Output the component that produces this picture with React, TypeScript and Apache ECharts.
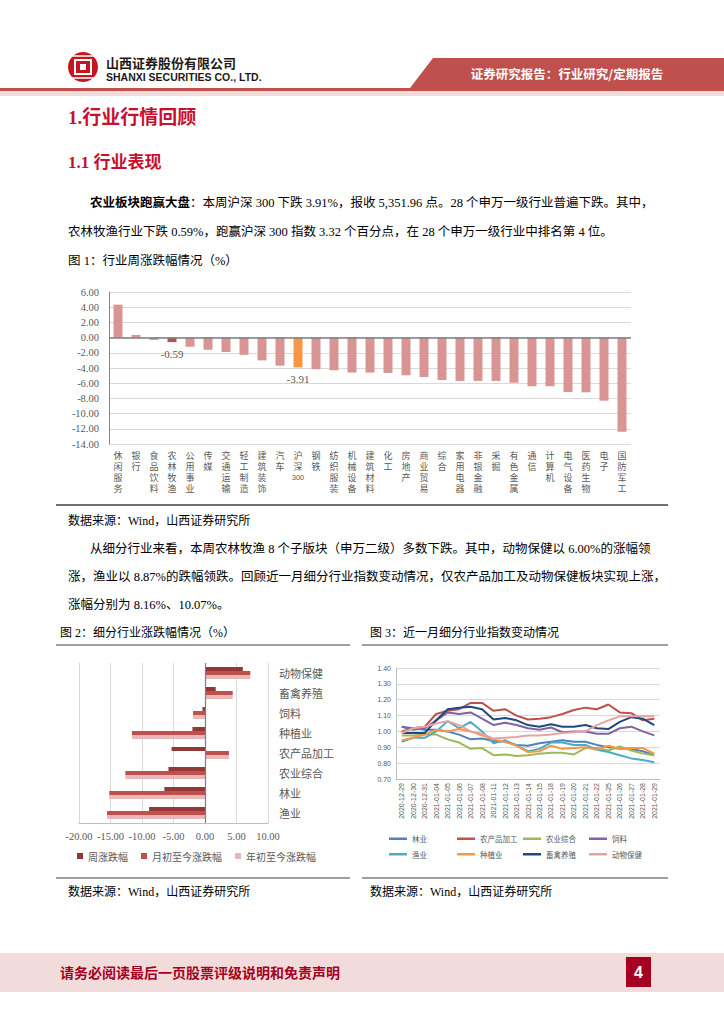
import React, { useEffect, useRef } from "react";
import * as echarts from "echarts";

// ---------- Figure 1 data ----------
const industryNames = ["休闲服务", "银行", "食品饮料", "农林牧渔", "公用事业", "传媒", "交通运输", "轻工制造", "建筑装饰", "汽车", "沪深300", "钢铁", "纺织服装", "机械设备", "建筑材料", "化工", "房地产", "商业贸易", "综合", "家用电器", "非银金融", "采掘", "有色金属", "通信", "计算机", "电气设备", "医药生物", "电子", "国防军工"];
const industryWeekChange = [4.34, 0.35, -0.3, -0.59, -1.2, -1.6, -1.9, -2.26, -3.0, -3.7, -3.91, -4.16, -4.3, -4.6, -4.6, -4.65, -4.96, -5.18, -5.58, -5.7, -5.7, -5.7, -5.93, -6.4, -6.4, -7.17, -7.2, -8.3, -12.4];

// ---------- Figure 2 data ----------
const subSectors = ["动物保健", "畜禽养殖", "饲料", "种植业", "农产品加工", "农业综合", "林业", "渔业"];
const subWeek = [6.0, 1.7, -0.4, -2.0, -5.3, -5.8, -6.45, -8.87];
const subMonth = [7.2, 4.4, -1.9, -11.6, 3.8, -12.65, -15.2, -15.55];
const subYtd = [7.2, 4.4, -1.9, -11.6, 3.8, -12.65, -15.2, -15.55];
const subLegend = ["周涨跌幅", "月初至今涨跌幅", "年初至今涨跌幅"];

// ---------- Figure 3 data ----------
const dates = ["2020-12-29", "2020-12-30", "2020-12-31", "2021-01-04", "2021-01-05", "2021-01-06", "2021-01-07", "2021-01-08", "2021-01-11", "2021-01-12", "2021-01-13", "2021-01-14", "2021-01-15", "2021-01-18", "2021-01-19", "2021-01-20", "2021-01-21", "2021-01-22", "2021-01-25", "2021-01-26", "2021-01-27", "2021-01-28", "2021-01-29"];
const forestry = [1.03, 1.02, 1.01, 1.01, 1.0, 0.98, 0.95, 0.955, 0.94, 0.935, 0.915, 0.91, 0.925, 0.935, 0.945, 0.935, 0.935, 0.915, 0.9, 0.89, 0.89, 0.875, 0.85];
const agriProcessing = [1.0, 1.02, 1.03, 1.11, 1.13, 1.14, 1.18, 1.18, 1.13, 1.14, 1.1, 1.075, 1.08, 1.09, 1.11, 1.135, 1.15, 1.14, 1.17, 1.12, 1.115, 1.07, 1.08];
const agriComposite = [0.975, 0.975, 0.98, 0.98, 0.95, 0.93, 0.89, 0.895, 0.85, 0.855, 0.845, 0.85, 0.86, 0.865, 0.865, 0.855, 0.895, 0.895, 0.88, 0.905, 0.88, 0.86, 0.85];
const feed = [1.03, 1.01, 1.02, 1.07, 1.12, 1.11, 1.12, 1.08, 1.04, 1.055, 1.04, 1.02, 1.01, 1.025, 0.995, 1.0, 1.0, 0.985, 0.985, 1.02, 1.03, 1.0, 0.975];
const fishery = [0.935, 0.96, 0.96, 1.0, 1.065, 1.02, 1.06, 1.0, 0.925, 0.945, 0.91, 0.875, 0.89, 0.93, 0.93, 0.915, 0.915, 0.885, 0.87, 0.85, 0.83, 0.82, 0.805];
const planting = [0.945, 0.96, 0.98, 1.01, 1.0, 1.015, 1.0, 0.975, 0.95, 0.935, 0.91, 0.87, 0.875, 0.91, 0.89, 0.895, 0.9, 0.885, 0.91, 0.89, 0.895, 0.895, 0.86];
const livestock = [0.99, 0.99, 0.99, 1.07, 1.14, 1.15, 1.155, 1.14, 1.075, 1.085, 1.07, 1.04, 1.03, 1.045, 1.03, 1.03, 1.04, 1.02, 1.015, 1.06, 1.09, 1.08, 1.04];
const animalHealth = [0.99, 1.02, 1.03, 1.05, 1.065, 1.04, 1.0, 0.985, 0.955, 0.96, 0.965, 0.975, 0.975, 0.98, 0.99, 0.995, 1.0, 1.04, 1.07, 1.095, 1.095, 1.095, 1.095];

const lineNames = ["林业", "农产品加工", "农业综合", "饲料", "渔业", "种植业", "畜禽养殖", "动物保健"];
const lineColors = ["#4f81bd", "#c0504d", "#9bbb59", "#8064a2", "#4bacc6", "#f79646", "#1f497d", "#e6a3a3"];
const lineData = [forestry, agriProcessing, agriComposite, feed, fishery, planting, livestock, animalHealth];

const SERIF = '"Liberation Serif", "Noto Sans CJK SC", serif';
const SANS = '"Liberation Sans", "Noto Sans CJK SC", sans-serif';
const CJK = '"Noto Sans CJK SC", sans-serif';

function txt(text: string, x: number, y: number, opts: any = {}) {
  return {
    type: "text",
    x,
    y,
    silent: true,
    style: {
      text,
      fontSize: opts.fontSize ?? 12.5,
      fontFamily: opts.fontFamily ?? SERIF,
      fontWeight: opts.fontWeight ?? "normal",
      fill: opts.fill ?? "#000",
      align: opts.align ?? "left",
      verticalAlign: "middle",
      rich: opts.rich,
    },
  };
}

function hline(x1: number, x2: number, y: number, color = "#404040", w = 1) {
  return { type: "line", silent: true, shape: { x1, y1: y, x2, y2: y }, style: { stroke: color, lineWidth: w } };
}

export default function App() {
  const ref = useRef<HTMLDivElement>(null);

  useEffect(() => {
    if (!ref.current) return;
    const chart = echarts.init(ref.current, undefined, { renderer: "svg" });

    const bar1Data = industryWeekChange.map((v, i) => {
      const name = industryNames[i];
      if (name === "农林牧渔") {
        return { value: v, itemStyle: { color: "#c0504d" }, label: { show: true, position: "bottom", distance: 6, formatter: v.toFixed(2), fontFamily: SERIF, fontSize: 11, color: "#595959" } };
      }
      if (name === "沪深300") {
        return { value: v, itemStyle: { color: "#f79646" }, label: { show: true, position: "bottom", distance: 6, formatter: v.toFixed(2), fontFamily: SERIF, fontSize: 11, color: "#595959" } };
      }
      return { value: v };
    });

    const graphics: any[] = [
      // header logo
      { type: "circle", silent: true, shape: { cx: 83, cy: 67, r: 15 }, style: { fill: "#c4161c" } },
      { type: "rect", silent: true, shape: { x: 75, y: 60, width: 16, height: 14 }, style: { fill: "none", stroke: "#fff", lineWidth: 2 } },
      { type: "rect", silent: true, shape: { x: 80, y: 64, width: 6, height: 6 }, style: { fill: "#fff" } },
      hline(72, 94, 56, "#fff", 1.5),
      hline(72, 94, 78, "#fff", 1.5),
      txt("山西证券股份有限公司", 106, 62, { fontSize: 13, fontWeight: "bold", fontFamily: CJK, fill: "#231815" }),
      txt("SHANXI SECURITIES CO., LTD.", 106, 77, { fontSize: 10.5, fontWeight: "bold", fontFamily: '"Liberation Sans Narrow", "Liberation Sans", sans-serif', fill: "#231815" }),
      { type: "polygon", silent: true, shape: { points: [[433, 58], [724, 58], [724, 88], [410, 88]] }, style: { fill: "#c0504d" } },
      txt("证券研究报告：行业研究/定期报告", 567, 73, { fontSize: 12.5, fontWeight: "bold", fontFamily: CJK, fill: "#fff", align: "center" }),
      { type: "rect", silent: true, shape: { x: 0, y: 88, width: 724, height: 3 }, style: { fill: "#c0504d" } },
      { type: "rect", silent: true, shape: { x: 0, y: 91, width: 724, height: 5 }, style: { fill: "#f2dcdb" } },
      // titles
      txt("1.行业行情回顾", 68, 117, { fontSize: 19, fontWeight: "bold", fill: "#c8102e" }),
      txt("1.1 行业表现", 68, 162, { fontSize: 17, fontWeight: "bold", fill: "#c8102e" }),
      // paragraph 1
      txt("{b|农业板块跑赢大盘}：本周沪深 300 下跌 3.91%，报收 5,351.96 点。28 个申万一级行业普遍下跌。其中，", 90, 203, {
        rich: { b: { fontWeight: "bold", fontSize: 12.5, fontFamily: SERIF, fill: "#000" } },
      }),
      txt("农林牧渔行业下跌 0.59%，跑赢沪深 300 指数 3.32 个百分点，在 28 个申万一级行业中排名第 4 位。", 68, 232),
      txt("图 1：行业周涨跌幅情况（%）", 68, 261),
      hline(56, 668, 505, "#404040", 1.5),
      txt("数据来源：Wind，山西证券研究所", 68, 521, { fontSize: 12 }),
      // paragraph 2
      txt("从细分行业来看，本周农林牧渔 8 个子版块（申万二级）多数下跌。其中，动物保健以 6.00%的涨幅领", 90, 549),
      txt("涨，渔业以 8.87%的跌幅领跌。回顾近一月细分行业指数变动情况，仅农产品加工及动物保健板块实现上涨，", 68, 577),
      txt("涨幅分别为 8.16%、10.07%。", 68, 605),
      txt("图 2：细分行业涨跌幅情况（%）", 60, 633, { fontSize: 12 }),
      txt("图 3：近一月细分行业指数变动情况", 370, 633, { fontSize: 12 }),
      hline(56, 350, 645, "#404040", 1),
      hline(362, 668, 645, "#404040", 1),
      hline(56, 350, 878, "#404040", 1),
      hline(362, 668, 878, "#404040", 1),
      txt("数据来源：Wind，山西证券研究所", 68, 892, { fontSize: 12 }),
      txt("数据来源：Wind，山西证券研究所", 370, 892, { fontSize: 12 }),
      // footer
      { type: "rect", silent: true, shape: { x: 0, y: 953, width: 724, height: 39 }, style: { fill: "#f2dcdb" } },
      txt("请务必阅读最后一页股票评级说明和免责声明", 60, 972, { fontSize: 14, fontWeight: "bold", fontFamily: CJK, fill: "#a50021" }),
      { type: "rect", silent: true, shape: { x: 626, y: 957, width: 25, height: 30 }, style: { fill: "#a50021" } },
      txt("4", 638.5, 972, { fontSize: 16, fontWeight: "bold", fontFamily: SANS, fill: "#fff", align: "center" }),
    ];

    const option: any = {
      animation: false,
      backgroundColor: "#fff",
      graphic: graphics,
      grid: [
        { left: 109, top: 292, width: 522, height: 152 },
        { left: 79, top: 663, width: 189, height: 160 },
        { left: 396, top: 668, width: 264, height: 111 },
      ],
      xAxis: [
        {
          gridIndex: 0,
          type: "category",
          data: industryNames,
          axisLine: { show: false, onZero: false },
          axisTick: { show: false },
          axisLabel: {
            interval: 0,
            margin: 6,
            fontSize: 9,
            lineHeight: 11,
            color: "#595959",
            fontFamily: CJK,
            verticalAlign: "top",
            formatter: (v: string) => {
              if (v === "沪深300") return "沪\n深\n{d|300}";
              return v.split("").join("\n");
            },
            rich: { d: { fontSize: 7.5, lineHeight: 11, color: "#595959", fontFamily: SANS } },
          },
        },
        {
          gridIndex: 1,
          type: "value",
          min: -20,
          max: 10,
          interval: 5,
          axisLine: { show: true, lineStyle: { color: "#bfbfbf" } },
          axisTick: { show: false },
          splitLine: { show: true, lineStyle: { color: "#d9d9d9" } },
          axisLabel: { formatter: (v: number) => v.toFixed(2), fontSize: 10.5, color: "#595959", fontFamily: SERIF, margin: 8 },
        },
        {
          gridIndex: 2,
          type: "category",
          data: dates,
          boundaryGap: true,
          axisLine: { show: true, lineStyle: { color: "#bfbfbf" } },
          axisTick: { show: false },
          axisLabel: { interval: 0, rotate: 90, fontSize: 7, color: "#595959", fontFamily: SANS, margin: 4 },
        },
      ],
      yAxis: [
        {
          gridIndex: 0,
          type: "value",
          min: -14,
          max: 6,
          interval: 2,
          axisLine: { show: true, lineStyle: { color: "#868686" } },
          axisTick: { show: false },
          splitLine: { show: true, lineStyle: { color: "#d9d9d9" } },
          axisLabel: { formatter: (v: number) => v.toFixed(2), fontSize: 10.5, color: "#595959", fontFamily: SERIF, margin: 10 },
        },
        {
          gridIndex: 1,
          type: "category",
          data: subSectors,
          inverse: true,
          position: "right",
          axisLine: { show: false },
          axisTick: { show: false },
          axisLabel: { fontSize: 11, color: "#595959", fontFamily: CJK, margin: 11 },
        },
        {
          gridIndex: 2,
          type: "value",
          min: 0.7,
          max: 1.4,
          interval: 0.1,
          axisLine: { show: true, lineStyle: { color: "#bfbfbf" } },
          axisTick: { show: false },
          splitLine: { show: true, lineStyle: { color: "#d9d9d9" } },
          axisLabel: { formatter: (v: number) => v.toFixed(2), fontSize: 7, color: "#595959", fontFamily: SANS, margin: 5 },
        },
      ],
      legend: [
        {
          left: 77,
          top: 851,
          padding: 0,
          itemWidth: 6,
          itemHeight: 6,
          itemGap: 13,
          icon: "rect",
          data: subLegend,
          textStyle: { fontSize: 10, color: "#595959", fontFamily: CJK },
        },
        ...[
          [0, 4, 389],
          [1, 5, 457],
          [2, 6, 523],
          [3, 7, 589],
        ].map(([a, b, left]) => ({
          left,
          top: 835,
          orient: "vertical",
          padding: 0,
          itemWidth: 18,
          itemHeight: 2.5,
          itemGap: 8,
          icon: "rect",
          data: [lineNames[a], lineNames[b]],
          textStyle: { fontSize: 7.5, color: "#595959", fontFamily: CJK },
        })),
      ],
      series: [
        {
          type: "bar",
          name: "行业周涨跌幅",
          xAxisIndex: 0,
          yAxisIndex: 0,
          data: bar1Data,
          barWidth: 9,
          itemStyle: { color: "#d99594" },
          markLine: {
            silent: true,
            symbol: "none",
            label: { show: false },
            lineStyle: { color: "#7f7f7f", width: 1.5, type: "solid" },
            data: [{ yAxis: 0 }],
          },
        },
        {
          type: "bar",
          name: subLegend[0],
          xAxisIndex: 1,
          yAxisIndex: 1,
          data: subWeek,
          barWidth: 4,
          barGap: "0%",
          itemStyle: { color: "#953735" },
          markLine: {
            silent: true,
            symbol: "none",
            label: { show: false },
            lineStyle: { color: "#7f7f7f", width: 1.2, type: "solid" },
            data: [{ xAxis: 0 }],
          },
        },
        { type: "bar", name: subLegend[1], xAxisIndex: 1, yAxisIndex: 1, data: subMonth, barWidth: 4, barGap: "0%", itemStyle: { color: "#c0504d" } },
        { type: "bar", name: subLegend[2], xAxisIndex: 1, yAxisIndex: 1, data: subYtd, barWidth: 4, barGap: "0%", itemStyle: { color: "#e6b9b8" } },
        ...lineNames.map((n, i) => ({
          type: "line",
          name: n,
          xAxisIndex: 2,
          yAxisIndex: 2,
          data: lineData[i],
          symbol: "none",
          lineStyle: { width: 2, color: lineColors[i] },
          itemStyle: { color: lineColors[i] },
        })),
      ],
    };

    chart.setOption(option);
    return () => chart.dispose();
  }, []);

  return <div ref={ref} style={{ position: "absolute", left: 0, top: 0, width: 724, height: 1024, background: "#fff" }} />;
}
